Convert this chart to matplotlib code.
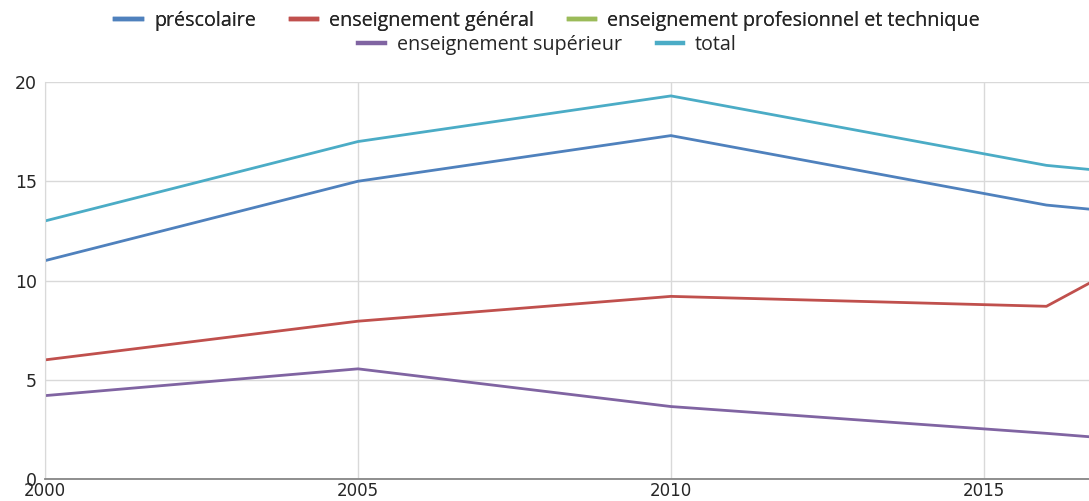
import matplotlib.pyplot as plt
import numpy as np
from matplotlib.lines import Line2D

# values (the chart is cut at the right edge)
years = [2000, 2005, 2010, 2016, 2017]
prescolaire = [11.0, 15.0, 17.3, 13.8, 13.5]
general = [6.0, 7.95, 9.2, 8.7, 10.4]
professionnel = [np.nan, np.nan, np.nan, np.nan, np.nan]
superieur = [4.2, 5.55, 3.65, 2.3, 2.05]
total = [13.0, 17.0, 19.3, 15.8, 15.5]

series = [
    ("préscolaire", prescolaire, "#4F81BD"),
    ("enseignement général", general, "#C0504D"),
    ("enseignement profesionnel et technique", professionnel, "#9BBB59"),
    ("enseignement supérieur", superieur, "#8064A2"),
    ("total", total, "#4BACC6"),
]

W, H = 1089, 501
plt.rcParams["font.family"] = ["Open Sans", "DejaVu Sans"]

fig = plt.figure(figsize=(W / 100, H / 100), dpi=100)
ax = fig.add_axes([45 / W, (H - 479) / H, (W - 45) / W, (479 - 82) / H])

for label, vals, color in series:
    ax.plot(years, vals, color=color, lw=2.0, label=label, solid_capstyle="butt")

ax.set_xlim(2000, 2016.68)
ax.set_ylim(0, 20)
ax.set_xticks([2000, 2005, 2010, 2015])
ax.set_yticks([0, 5, 10, 15, 20])
ax.grid(True, color="#D9D9D9", lw=1.0)
ax.set_axisbelow(True)
for side in ["top", "right"]:
    ax.spines[side].set_visible(False)
ax.spines["left"].set_color("#D9D9D9")
ax.spines["bottom"].set_color("#868686")
ax.spines["bottom"].set_linewidth(1.3)
ax.tick_params(length=0, colors="#262626")
ax.tick_params(axis="y", labelsize=12.5, pad=6)
ax.tick_params(axis="x", labelsize=12, pad=2)
for t in ax.get_xticklabels() + ax.get_yticklabels():
    t.set_family("DejaVu Sans")

handles = [Line2D([0], [0], color=c, lw=3.2) for _, _, c in series]
labels = [s[0] for s in series]
kw = dict(frameon=False, fontsize=14.2, handlelength=1.34, handletextpad=0.62,
          columnspacing=1.75, labelcolor="#262626")
leg1 = fig.legend(handles[:3], labels[:3], ncol=3, loc="center",
                  bbox_to_anchor=(0.503, 1 - 21 / H), **kw)
fig.legend(handles[3:], labels[3:], ncol=2, loc="center",
           bbox_to_anchor=(0.503, 1 - 45 / H), **kw)
fig.add_artist(leg1)

fig.savefig("out.png", dpi=100)
